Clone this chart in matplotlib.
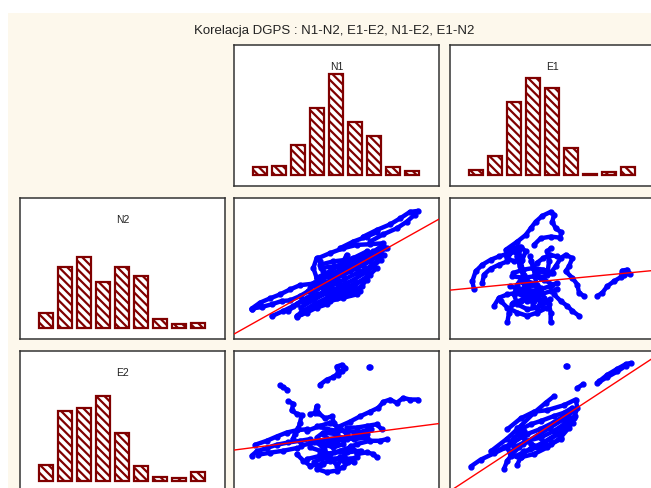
import matplotlib
matplotlib.use("Agg")
import matplotlib.pyplot as plt
from matplotlib.patches import Rectangle

plt.rcParams['font.family'] = ['Liberation Sans', 'DejaVu Sans']
plt.rcParams['hatch.linewidth'] = 1.6

# tytul i nazwy zmiennych
title = "Korelacja DGPS : N1-N2, E1-E2, N1-E2, E1-N2"
var_cols = ["N1", "E1"]
var_rows = ["N2", "E2"]

# histogramy (liczebnosci w 9 klasach)
bins = list(range(9))
hist_N1 = [75, 90, 295, 665, 1005, 525, 385, 75, 35]
hist_E1 = [45, 190, 730, 965, 865, 265, 10, 25, 80]
hist_N2 = [150, 610, 710, 460, 610, 520, 90, 45, 50]
hist_E2 = [155, 695, 725, 845, 475, 145, 35, 25, 85]

# slady punktow (odcinki trajektorii) - N1 vs N2
tracks_N1_N2 = [
    [(388, 310), (428, 330), (468, 347), (498, 365), (528, 385), (553, 388)],
    [(408, 295), (448, 317), (488, 335), (518, 355), (543, 377)],
    [(318, 275), (358, 295), (398, 310), (428, 323)],
    [(253, 245), (288, 260), (328, 275), (368, 285), (408, 287), (448, 290), (453, 275),
     (428, 250), (388, 225), (348, 205), (308, 185), (278, 165), (248, 155)],
    [(258, 235), (268, 205), (288, 185), (328, 195), (368, 215), (408, 235), (438, 260)],
    [(228, 155), (268, 175), (308, 170), (348, 155), (378, 145), (368, 135), (328, 125),
     (288, 115), (248, 100), (208, 85), (188, 70)],
    [(248, 185), (288, 205), (318, 225), (358, 245), (398, 265)],
    [(288, 135), (328, 155), (358, 165), (388, 180), (408, 195), (428, 215)],
    [(218, 125), (248, 135), (288, 145), (328, 135), (358, 145), (383, 160), (398, 180)],
    [(258, 225), (298, 235), (338, 240), (378, 250), (418, 265), (458, 275)],
    [(268, 115), (308, 125), (348, 135), (368, 145)],
    [(338, 255), (318, 215), (298, 175), (288, 145)],
    [(248, 245), (238, 215), (248, 185), (268, 155), (288, 135)],
    [(200, 95), (240, 120), (280, 140), (320, 160), (360, 180), (400, 205), (440, 240)],
    [(210, 110), (250, 130), (290, 160), (330, 180), (370, 200), (410, 220), (450, 255)],
    [(230, 140), (270, 160), (310, 190), (350, 220), (390, 240), (430, 270)],
    [(200, 80), (240, 105), (280, 125), (320, 140), (360, 160), (400, 190)],
    [(240, 170), (280, 190), (320, 210), (360, 230), (400, 250), (440, 280)],
    [(260, 215), (300, 220), (340, 230), (380, 240), (420, 250)],
    [(53, 92), (78, 110), (108, 123), (138, 135), (168, 150), (198, 163), (233, 167)],
    [(53, 92), (83, 97), (113, 105), (143, 115), (168, 117), (198, 130), (223, 145)],
    [(113, 69), (148, 85), (178, 100), (203, 115)],
    [(188, 67), (218, 80), (248, 95), (278, 105)],
    [(163, 85), (188, 105), (208, 120)],
]

# E1 vs N2
tracks_E1_N2 = [
    [(167, 270), (202, 295), (227, 315), (242, 335), (257, 355), (277, 373), (302, 385),
     (312, 377), (307, 355), (317, 335), (334, 323), (330, 307), (302, 310), (272, 305), (252, 285)],
    [(72, 150), (67, 175), (77, 205), (97, 225), (122, 240), (147, 250), (177, 260), (207, 270)],
    [(97, 170), (102, 195), (122, 213), (147, 225), (172, 235)],
    [(167, 255), (182, 275), (212, 280), (227, 265), (217, 240), (192, 235), (172, 245),
     (187, 265), (207, 255)],
    [(212, 235), (222, 195), (202, 165), (192, 135), (202, 105), (232, 90), (262, 95),
     (282, 125), (272, 155), (242, 165), (222, 145), (232, 115), (252, 115)],
    [(242, 235), (257, 205), (272, 185), (292, 195), (297, 235), (292, 265), (302, 275)],
    [(132, 100), (147, 125), (172, 135), (202, 140), (232, 135), (272, 135), (302, 145), (322, 150)],
    [(172, 50), (177, 80), (187, 105), (212, 115), (242, 120)],
    [(302, 50), (302, 80), (297, 105), (282, 115)],
    [(272, 205), (302, 200), (317, 220), (332, 245), (347, 255), (367, 245), (357, 220),
     (347, 205), (367, 185), (382, 165), (387, 140), (402, 130)],
    [(312, 135), (332, 115), (352, 100), (367, 85), (387, 70)],
    [(187, 190), (222, 185), (252, 190), (282, 180), (307, 165)],
    [(152, 115), (172, 95), (202, 80), (232, 70), (262, 80), (292, 95)],
    [(212, 175), (232, 155), (252, 135), (232, 125), (212, 135), (232, 175), (262, 165)],
    [(200, 250), (210, 220), (220, 190), (230, 160), (240, 130), (250, 100)],
    [(240, 250), (250, 220), (255, 190), (260, 160), (265, 130), (275, 100)],
    [(190, 200), (220, 210), (250, 215), (280, 210), (310, 200)],
    [(180, 160), (210, 150), (240, 145), (270, 150), (300, 160), (320, 170)],
    [(190, 110), (220, 120), (250, 125), (280, 110), (300, 120)],
    [(260, 230), (280, 245), (300, 255), (320, 250)],
    [(442, 130), (457, 140), (472, 160), (492, 175), (512, 187), (517, 207), (532, 210),
     (539, 197), (522, 195)],
]

# N1 vs E2
tracks_N1_E2 = [
    [(258, 325), (278, 340), (298, 348), (313, 360), (308, 380), (323, 385), (333, 377),
     (323, 367), (313, 355)],
    [(405, 379), (407, 379)],
    [(138, 323), (148, 317), (160, 310)],
    [(53, 110), (68, 123), (98, 133), (128, 143), (163, 150), (198, 155), (228, 160)],
    [(63, 143), (98, 155), (128, 168), (158, 180), (188, 187), (218, 190)],
    [(73, 113), (108, 119), (148, 125), (188, 133)],
    [(163, 275), (178, 267), (173, 247), (188, 237), (203, 233), (198, 210), (193, 193),
     (183, 175), (176, 160)],
    [(228, 235), (243, 240), (248, 260), (253, 240), (273, 223), (293, 229), (300, 210)],
    [(218, 185), (258, 200), (288, 210), (318, 195), (338, 175), (328, 145), (298, 135),
     (268, 145), (248, 165), (268, 180), (308, 175)],
    [(188, 115), (208, 95), (228, 80), (258, 83), (288, 95), (318, 105), (348, 100), (368, 105)],
    [(248, 70), (278, 60), (308, 65), (328, 75), (343, 90)],
    [(228, 135), (258, 125), (288, 115), (318, 125), (348, 135), (368, 145), (408, 155),
     (438, 155), (458, 160)],
    [(368, 115), (398, 120), (418, 115), (428, 105)],
    [(308, 195), (348, 213), (378, 229), (408, 243), (433, 255), (448, 273), (468, 280),
     (488, 270), (508, 285), (528, 280), (553, 280)],
    [(338, 195), (368, 195), (398, 200), (428, 205), (443, 190)],
    [(268, 175), (288, 155), (308, 155), (338, 160), (368, 170), (398, 175)],
    [(268, 85), (258, 115), (278, 145), (308, 145)],
    [(200, 140), (240, 150), (280, 160), (320, 165), (360, 160), (400, 165)],
    [(220, 100), (260, 110), (300, 120), (340, 120), (380, 125)],
    [(240, 90), (270, 105), (300, 100), (330, 95), (360, 90)],
    [(250, 200), (280, 190), (310, 185), (340, 185), (370, 180), (410, 190)],
    [(250, 150), (270, 130), (290, 100), (310, 80), (330, 110), (350, 140), (370, 120)],
]

# E1 vs E2
tracks_E1_E2 = [
    [(348, 381), (350, 381)],
    [(442, 330), (472, 348), (502, 365), (527, 382), (542, 390), (527, 387), (502, 373),
     (472, 355), (447, 335)],
    [(382, 315), (400, 327)],
    [(122, 123), (172, 162), (212, 200), (252, 240), (287, 270), (312, 290)],
    [(62, 77), (92, 98), (132, 117), (172, 137)],
    [(172, 190), (212, 223), (252, 243), (292, 248), (342, 263), (377, 280), (382, 255),
     (372, 225), (357, 195), (332, 165), (292, 135), (252, 115), (212, 105), (182, 110),
     (172, 135), (192, 165), (222, 185)],
    [(202, 185), (242, 205), (272, 215), (312, 230), (342, 240), (367, 255)],
    [(192, 135), (232, 155), (272, 165), (312, 185), (342, 205), (362, 225)],
    [(180, 120), (220, 145), (260, 170), (300, 195), (340, 220), (370, 245)],
    [(200, 110), (240, 130), (280, 150), (320, 175), (350, 200), (375, 230)],
    [(190, 150), (230, 175), (270, 190), (310, 210), (350, 235)],
    [(220, 120), (260, 135), (300, 160), (340, 185), (370, 210)],
    [(162, 70), (172, 95), (187, 115), (207, 135)],
    [(202, 83), (212, 105), (222, 125)],
    [(132, 120), (162, 135), (182, 145)],
    [(212, 185), (222, 165), (207, 175), (202, 195)],
    [(242, 145), (272, 135), (302, 145), (332, 160)],
]

# proste regresji (wyraz wolny, nachylenie)
fit_N1_N2 = (15, 0.566)
fit_E1_N2 = (148, 0.0975)
fit_N1_E2 = (127, 0.1305)
fit_E1_E2 = (2.8, 0.6615)

W, H = 651, 488
fig = plt.figure(figsize=(W / 100, H / 100), dpi=100)
fig.patch.set_facecolor('white')
fig.patches.append(Rectangle((8 / W, 0), 1, 1 - 13 / H, transform=fig.transFigure,
                             facecolor='#fdf8ec', edgecolor='none', zorder=-10))
fig.text(334 / W, 1 - 31 / H, title, ha='center', va='center', fontsize=9.5, color='#222222')

col_left = [20, 234, 450]
row_top = [45, 198, 351]
pw, ph = 205, 141


def panel(c, r):
    ax = fig.add_axes([col_left[c] / W, 1 - (row_top[r] + ph) / H, pw / W, ph / H])
    ax.set_facecolor('white')
    ax.set_xticks([])
    ax.set_yticks([])
    for s in ax.spines.values():
        s.set_color('#333333')
        s.set_linewidth(1.1)
    return ax


def hist_panel(ax, counts, name):
    ax.bar(bins, counts, width=0.72, color='white', edgecolor='#800000',
           linewidth=1.6, hatch='\\\\\\\\')
    ax.set_xlim(-1.38, 9.43)
    ax.set_ylim(-110, 1300)
    ax.text(0.5, 0.845, name, transform=ax.transAxes, ha='center', va='center',
            fontsize=7.5, color='#222222')


def scatter_panel(ax, tracks, fit):
    for t in tracks:
        xs = [p[0] for p in t]
        ys = [p[1] for p in t]
        ax.plot(xs, ys, '-o', color='#0000ff', lw=3.2, ms=3.5, solid_capstyle='round',
                solid_joinstyle='round')
    ax.axline((0, fit[0]), slope=fit[1], color='#ff0000', lw=1.0, zorder=5)
    ax.set_xlim(0, 615)
    ax.set_ylim(0, 427)


hist_panel(panel(1, 0), hist_N1, var_cols[0])
hist_panel(panel(2, 0), hist_E1, var_cols[1])
hist_panel(panel(0, 1), hist_N2, var_rows[0])
hist_panel(panel(0, 2), hist_E2, var_rows[1])

scatter_panel(panel(1, 1), tracks_N1_N2, fit_N1_N2)
scatter_panel(panel(2, 1), tracks_E1_N2, fit_E1_N2)
scatter_panel(panel(1, 2), tracks_N1_E2, fit_N1_E2)
scatter_panel(panel(2, 2), tracks_E1_E2, fit_E1_E2)

fig.savefig("out.png", dpi=100)
